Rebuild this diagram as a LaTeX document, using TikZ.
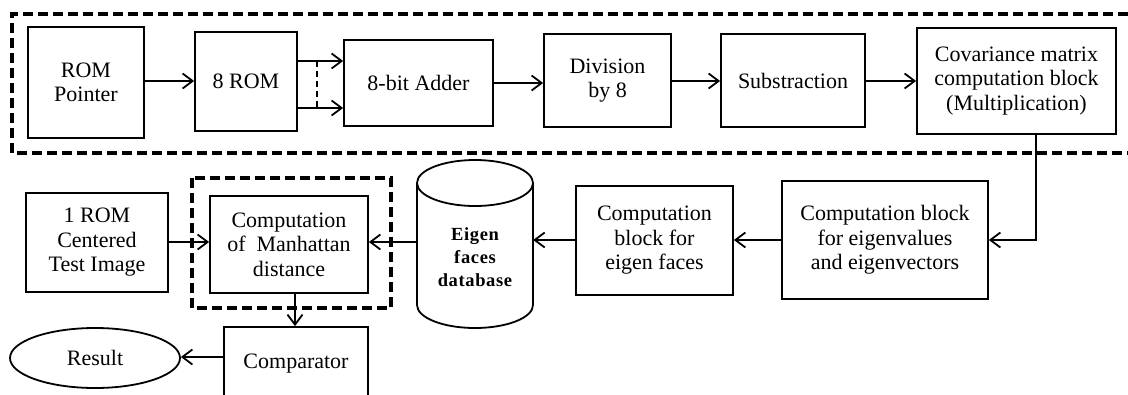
\documentclass[tikz,border=0pt]{standalone}
\usepackage{fontspec}
\setmainfont{Liberation Serif}
\newfontfamily\dbfont[LetterSpace=3.5]{Liberation Serif}
\usetikzlibrary{arrows.meta,shapes.geometric}
\begin{document}
\begin{tikzpicture}[x=1pt,y=-1pt,
  blk/.style={draw, line width=1.8pt, rectangle, align=center, inner sep=0pt,
    font=\fontsize{22}{24.5}\selectfont},
  arr/.style={line width=1.8pt, -{Straight Barb[length=10pt,width=15pt,line width=1.8pt]}},
  plain/.style={line width=1.8pt},
  dashbox/.style={line width=3.5pt, dash pattern=on 10pt off 5pt},
  thindash/.style={line width=1.6pt, dash pattern=on 6pt off 4pt},
  dbtext/.style={align=center, inner sep=0pt, font=\fontsize{18.5}{23}\selectfont\dbfont\bfseries}]
\useasboundingbox (0,0) rectangle (1128,394);

% outer dashed region (open at the right, cut by the page)
\draw[dashbox] (1128,14) -- (12,14) -- (12,153) -- (1128,153);

% top row
\node[blk, minimum width=116pt, minimum height=111pt] (rompointer) at (86,82.5) {ROM\\Pointer};
\node[blk, minimum width=102pt, minimum height=99pt] (rom8) at (246,81.5) {8 ROM};
\node[blk, minimum width=149pt, minimum height=86pt] (adder) at (418.5,83) {8-bit Adder};
\node[blk, minimum width=127pt, minimum height=93pt] (division) at (607.5,80.5) {Division\\by 8};
\node[blk, minimum width=144pt, minimum height=93pt] (subs) at (793,80.5) {Substraction};
\node[blk, minimum width=199pt, minimum height=106pt] (covar) at (1016.5,81) {Covariance matrix\\computation block\\(Multiplication)};

% bottom row
\node[blk, minimum width=206pt, minimum height=118pt] (eigvals) at (885,240) {Computation block\\for eigenvalues\\and eigenvectors};
\node[blk, minimum width=157pt, minimum height=109pt] (eigfaces) at (654.5,240.5) {Computation\\block for\\eigen faces};
\node[rectangle, inner sep=0pt, minimum width=116pt, minimum height=168pt] (db) at (475,244) {};
\node[dbtext] (dblabel) at (475,257) {Eigen\\faces\\database};
\node[blk, minimum width=158pt, minimum height=97pt] (manh) at (289,244.5) {Computation\\of~ Manhattan\\distance};
\node[blk, minimum width=142pt, minimum height=99pt] (testimg) at (97,242.5) {1 ROM\\Centered\\Test Image};
\node[blk, minimum width=144pt, minimum height=73pt] (comp) at (296,363.5) {Comparator};
\node[blk, ellipse, minimum width=170pt, minimum height=60pt] (result) at (95,358) {Result};

% cylinder outline
\draw[plain] (475,183) ellipse [x radius=58pt, y radius=23pt];
\draw[plain] (417,183) -- (417,305) arc[start angle=180, end angle=360, x radius=58pt, y radius=23pt] -- (533,183);

% small dashed region
\draw[dashbox] (192,178) rectangle (391,308);

% connectors top row
\draw[arr] (rompointer.east |- 0,81) -- (rom8.west |- 0,81);
\draw[arr] (rom8.east |- 0,61) -- (adder.west |- 0,61);
\draw[arr] (rom8.east |- 0,108) -- (adder.west |- 0,108);
\coordinate (dtop) at (317,61);
\coordinate (dbot) at (317,108);
\draw[thindash] (dtop) -- (dbot);
\draw[arr] (adder.east |- 0,83) -- (division.west |- 0,83);
\draw[arr] (division.east |- 0,81) -- (subs.west |- 0,81);
\draw[arr] (subs.east |- 0,81) -- (covar.west |- 0,81);

% covariance down to eigenvalues
\coordinate (turn) at (1036,240);
\draw[arr] (covar.south -| turn) -- (turn) -- (eigvals.east |- turn);

% bottom row connectors
\draw[arr] (eigvals.west |- 0,240) -- (eigfaces.east |- 0,240);
\draw[arr] (eigfaces.west |- 0,240) -- (db.east |- 0,240);
\draw[arr] (db.west |- 0,242) -- (manh.east |- 0,242);
\draw[arr] (testimg.east |- 0,242) -- (manh.west |- 0,242);
\draw[arr] (manh.south -| 295,0) -- (comp.north -| 295,0);
\draw[arr] (comp.west |- 0,357) -- (result.east |- 0,357);
\end{tikzpicture}
\end{document}
